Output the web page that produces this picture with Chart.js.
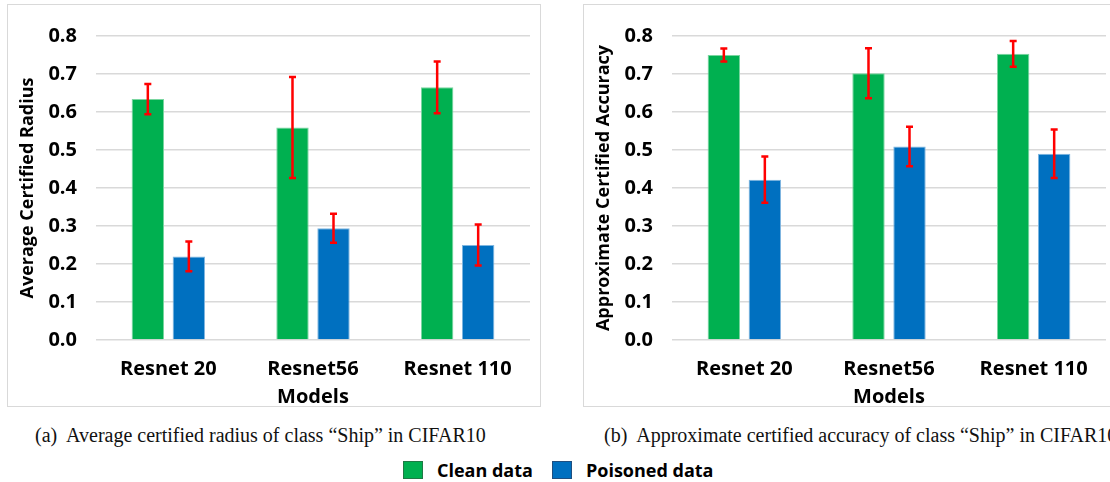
<!DOCTYPE html>
<html lang="en">
<head>
    <meta charset="UTF-8">
    <title>Certified radius / accuracy of class Ship</title>
    <script src="https://cdn.jsdelivr.net/npm/chart.js"></script>
    <style>
        body {
            margin: 0;
            background: #ffffff;
        }
        #fig {
            position: relative;
            width: 1110px;
            height: 482px;
            overflow: hidden;
            background: #ffffff;
        }
        .box {
            position: absolute;
            top: 4px;
            width: 534px;
            height: 403px;
            box-sizing: border-box;
            border: 1px solid #d9d9d9;
        }
        .box canvas { display: block; }
        .caption {
            position: absolute;
            top: 424px;
            font-family: "Liberation Serif", "DejaVu Serif", serif;
            font-size: 20px;
            color: #111;
            white-space: nowrap;
        }
        .legend {
            position: absolute;
            top: 458px;
            left: 403px;
            display: flex;
            align-items: center;
            font-family: "Open Sans", "Noto Sans", sans-serif;
            font-weight: bold;
            font-size: 18px;
            color: #000;
            white-space: nowrap;
        }
        .legend span.sw {
            display: inline-block;
            width: 20px;
            height: 18px;
            box-sizing: border-box;
            margin-right: 14px;
        }
        .legend span.lbl { margin-right: 19px; }
    </style>
</head>
<body>
<div id="fig">
    <div class="box" style="left: 7px;"><canvas id="radiusChart" width="532" height="401"></canvas></div>
    <div class="box" style="left: 583px;"><canvas id="accuracyChart" width="532" height="401"></canvas></div>
    <div class="caption" style="left: 35px;">(a)&nbsp; Average certified radius of class &ldquo;Ship&rdquo; in CIFAR10</div>
    <div class="caption" style="left: 604px;">(b)&nbsp; Approximate certified accuracy of class &ldquo;Ship&rdquo; in CIFAR10</div>
    <div class="legend" id="legend"></div>
</div>

<script>
    // data
    const models = ['Resnet 20', 'Resnet56', 'Resnet 110'];
    const seriesNames = ['Clean data', 'Poisoned data'];

    const radiusClean = [0.634, 0.559, 0.665];
    const radiusCleanErr = [0.040, 0.133, 0.068];
    const radiusPoisoned = [0.220, 0.294, 0.250];
    const radiusPoisonedErr = [0.039, 0.038, 0.054];

    const accClean = [0.750, 0.702, 0.753];
    const accCleanErr = [0.017, 0.066, 0.034];
    const accPoisoned = [0.422, 0.509, 0.490];
    const accPoisonedErr = [0.061, 0.052, 0.064];

    const yMin = 0, yMax = 0.8, yStep = 0.1;

    const fillColors = ['#00B050', '#0070C0'];
    const edgeColors = ['#7ad6a0', '#7fb6e0'];
    const errColor = '#ff0000';

    const fontFamily = '"Open Sans", "Noto Sans", sans-serif';
    const tickFont = { family: fontFamily, weight: 'bold', size: 20 };

    // draws red error bars with caps on top of every bar
    const errorBarPlugin = {
        id: 'errorBars',
        afterDatasetsDraw(chart) {
            const ctx = chart.ctx;
            const yScale = chart.scales.y;
            ctx.save();
            ctx.strokeStyle = errColor;
            ctx.lineWidth = 2.5;
            chart.data.datasets.forEach((ds, i) => {
                const meta = chart.getDatasetMeta(i);
                meta.data.forEach((bar, j) => {
                    const v = ds.data[j], e = ds.errors[j];
                    const yTop = yScale.getPixelForValue(v + e);
                    const yBot = yScale.getPixelForValue(v - e);
                    ctx.beginPath();
                    ctx.moveTo(bar.x, yTop);
                    ctx.lineTo(bar.x, yBot);
                    ctx.moveTo(bar.x - 3.5, yTop);
                    ctx.lineTo(bar.x + 3.5, yTop);
                    ctx.moveTo(bar.x - 3.5, yBot);
                    ctx.lineTo(bar.x + 3.5, yBot);
                    ctx.stroke();
                });
            });
            ctx.restore();
        }
    };

    function makeChart(id, yTitle, clean, cleanErr, poisoned, poisonedErr) {
        const ctx = document.getElementById(id).getContext('2d');
        return new Chart(ctx, {
            type: 'bar',
            data: {
                labels: models,
                datasets: [
                    { label: seriesNames[0], data: clean, errors: cleanErr,
                      backgroundColor: fillColors[0], borderColor: edgeColors[0], borderWidth: 1,
                      barPercentage: 0.79, categoryPercentage: 0.567 },
                    { label: seriesNames[1], data: poisoned, errors: poisonedErr,
                      backgroundColor: fillColors[1], borderColor: edgeColors[1], borderWidth: 1,
                      barPercentage: 0.79, categoryPercentage: 0.567 }
                ]
            },
            options: {
                responsive: false,
                animation: false,
                layout: { padding: { top: 17, right: 10, left: 0, bottom: 0 } },
                plugins: { legend: { display: false }, tooltip: { enabled: false } },
                scales: {
                    x: {
                        grid: { display: false },
                        border: { display: false },
                        ticks: { color: '#000', font: tickFont, padding: 9 },
                        title: { display: true, text: 'Models', color: '#000',
                                 font: { family: fontFamily, weight: 'bold', size: 20, lineHeight: 0.9 },
                                 padding: { top: 0, bottom: 0 } },
                        afterFit: s => { s.height = 66; }
                    },
                    y: {
                        min: yMin,
                        max: yMax,
                        grid: { color: '#d9d9d9', lineWidth: 1.5, drawTicks: false },
                        border: { display: false },
                        ticks: { stepSize: yStep, color: '#000', font: tickFont, padding: 19,
                                 callback: v => v.toFixed(1) },
                        title: { display: true, text: yTitle, color: '#000',
                                 font: { family: fontFamily, weight: 'bold', size: 18 },
                                 padding: { top: 9, bottom: 0 } },
                        afterFit: s => { s.width = 88; }
                    }
                }
            },
            plugins: [errorBarPlugin]
        });
    }

    makeChart('radiusChart', 'Average Certified Radius',
        radiusClean, radiusCleanErr, radiusPoisoned, radiusPoisonedErr);
    makeChart('accuracyChart', 'Approximate Certified Accuracy',
        accClean, accCleanErr, accPoisoned, accPoisonedErr);

    // shared legend under both panels
    const legend = document.getElementById('legend');
    seriesNames.forEach((name, i) => {
        const sw = document.createElement('span');
        sw.className = 'sw';
        sw.style.background = fillColors[i];
        sw.style.border = '1px solid ' + (i === 0 ? '#1f7a45' : '#1f4f80');
        const lbl = document.createElement('span');
        lbl.className = 'lbl';
        lbl.textContent = name;
        legend.appendChild(sw);
        legend.appendChild(lbl);
    });
</script>
</body>
</html>
